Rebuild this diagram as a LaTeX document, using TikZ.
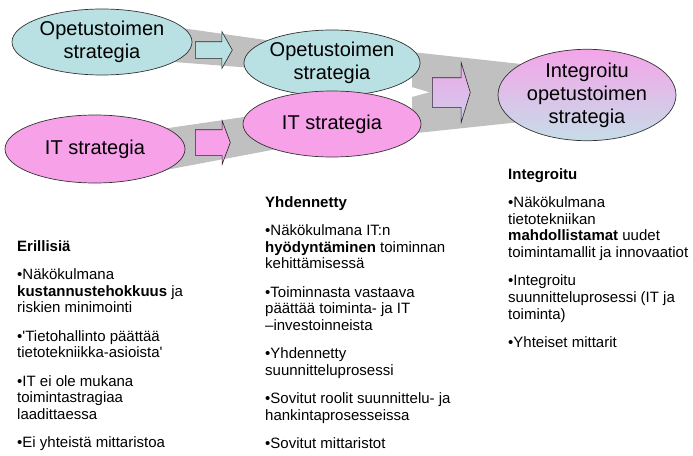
\documentclass[tikz,border=0pt]{standalone}
\usepackage{fontspec}
\setmainfont{Liberation Sans}
\usepackage{tikz}
\usetikzlibrary{shapes.geometric,shapes.arrows}

\definecolor{opcyan}{HTML}{B9E1E3}
\definecolor{itpink}{HTML}{F7A1E9}
\definecolor{bandgrey}{HTML}{C0C0C0}
\definecolor{intpink}{HTML}{F4A4E8}
\definecolor{intblue}{HTML}{C6DDE8}
\definecolor{arrtop}{HTML}{EAA9E9}
\definecolor{arrbot}{HTML}{D2CCEA}

\tikzset{
  strat/.style={ellipse, draw=black!80, line width=0.7pt, align=center, inner sep=0pt,
    font=\fontsize{20}{23}\selectfont},
  blockarrow/.style={single arrow, draw=black!85, line width=0.6pt, inner xsep=0pt, anchor=tail},
  collist/.style={anchor=north west, align=left, inner sep=0pt,
    font=\fontsize{15}{16.7}\selectfont},
}

\begin{document}
\begin{tikzpicture}[x=1pt,y=-1pt]
        \useasboundingbox (0,0) rectangle (693,455);

        % Grey bands behind the ellipses
        \fill[bandgrey] (160,25) -- (280,42) -- (280,70) -- (160,61) -- cycle;
        \fill[bandgrey] (155,130) -- (285,111) -- (285,147.5) -- (155,172) -- cycle;
        \fill[bandgrey] (412,52) -- (530,65) -- (530,123) -- (412,87) -- cycle;
        \fill[bandgrey] (412,97) -- (530,65) -- (530,121) -- (412,133.5) -- cycle;

        % Separate strategies
        \node[strat, fill=opcyan, minimum width=180, minimum height=66] (op1) at (102,42) {Opetustoimen\\strategia};
        \node[strat, fill=itpink, minimum width=180, minimum height=68] (it1) at (95,149) {IT strategia};

        % Unified strategies
        \node[strat, fill=opcyan, minimum width=174, minimum height=66] (op2) at (332,63) {Opetustoimen\\strategia};
        \node[strat, fill=itpink, minimum width=178, minimum height=66] (it2) at (332,124) {IT strategia};

        % Integrated strategy
        \node[strat, top color=intpink, bottom color=intblue, minimum width=178, minimum height=90] (int) at (587,95) {Integroitu\\opetustoimen\\strategia};

        % Block arrows
        \node[blockarrow, fill=opcyan, minimum height=37, inner ysep=8,
              single arrow head extend=10, single arrow tip angle=121] (a1) at (195,50) {};
        \node[blockarrow, fill=itpink, minimum height=35, inner ysep=12.5,
              single arrow head extend=9, single arrow tip angle=139] (a2) at (195,142.5) {};
        \node[blockarrow, top color=arrtop, bottom color=arrbot, minimum height=38, inner ysep=14.5,
              single arrow head extend=15, single arrow tip angle=146] (a3) at (432,92.5) {};

        % Column texts
        \node[collist] (erill) at (17,240) {\textbf{Erillisiä}\\[11.6pt]
          •Näkökulmana\\
          \textbf{kustannustehokkuus} ja\\
          riskien minimointi\\[11.6pt]
          •\textquotesingle Tietohallinto päättää\\
          tietotekniikka-asioista\textquotesingle\\[11.6pt]
          •IT ei ole mukana\\
          toimintastragiaa\\
          laadittaessa\\[11.6pt]
          •Ei yhteistä mittaristoa};

        \node[collist] (yhden) at (265,196) {\textbf{Yhdennetty}\\[11.6pt]
          •Näkökulmana IT:n\\
          \textbf{hyödyntäminen} toiminnan\\
          kehittämisessä\\[11.6pt]
          •Toiminnasta vastaava\\
          päättää toiminta- ja IT\\
          –investoinneista\\[11.6pt]
          •Yhdennetty\\
          suunnitteluprosessi\\[11.6pt]
          •Sovitut roolit suunnittelu- ja\\
          hankintaprosesseissa\\[11.6pt]
          •Sovitut mittaristot};

        \node[collist] (integ) at (508,168) {\textbf{Integroitu}\\[11.6pt]
          •Näkökulmana\\
          tietotekniikan\\
          \textbf{mahdollistamat} uudet\\
          toimintamallit ja innovaatiot\\[11.6pt]
          •Integroitu\\
          suunnitteluprosessi (IT ja\\
          toiminta)\\[11.6pt]
          •Yhteiset mittarit};
\end{tikzpicture}
\end{document}
